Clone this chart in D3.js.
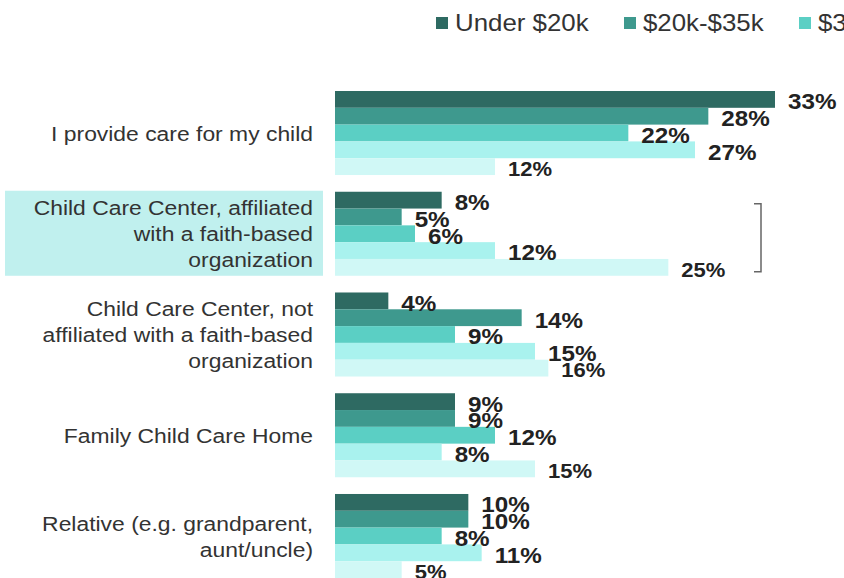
<!DOCTYPE html>
<html>
<head>
<meta charset="utf-8">
<script src="https://cdn.jsdelivr.net/npm/d3@7"></script>
<style>
  body { margin: 0; background: #fff; }
  svg { display: block; font-family: "Liberation Sans", Arial, sans-serif; }
</style>
</head>
<body>
<div id="chart"></div>
<script>
const w = 844;
const h = 578;

// data
const categories = [
  ["I provide care for my child"],
  ["Child Care Center, affiliated", "with a faith-based", "organization"],
  ["Child Care Center, not", "affiliated with a faith-based", "organization"],
  ["Family Child Care Home"],
  ["Relative (e.g. grandparent,", "aunt/uncle)"]
];
const series = ["Under $20k", "$20k-$35k", "$35k-$50k", "$50k-$75k", "$75k+"];
const colors = ["#2e6a62", "#3e998e", "#5bcfc4", "#a9f2ee", "#d0f8f6"];
const under20 = [33, 8, 4, 9, 10];
const from20to35 = [28, 5, 14, 9, 10];
const from35to50 = [22, 6, 9, 12, 8];
const from50to75 = [27, 12, 15, 8, 11];
const over75 = [12, 25, 16, 15, 5];
const values = [under20, from20to35, from35to50, from50to75, over75];

const highlighted = 1; // the faith-based row gets the box + bracket

const svg = d3.select("#chart")
  .append("svg")
  .attr("width", w)
  .attr("height", h);

const catIdx = categories.map((c, i) => i);

const x = d3.scaleLinear().domain([0, 33]).range([335, 775]);

const y0 = d3.scaleBand()
  .domain(catIdx)
  .range([91, 578])
  .paddingInner(0.166)
  .paddingOuter(0);

const y1 = d3.scaleBand()
  .domain(series)
  .range([0, y0.bandwidth()]);

// highlight box behind the second label
svg.append("rect")
  .attr("x", 5)
  .attr("y", y0(highlighted) - 1)
  .attr("width", 318)
  .attr("height", y0.bandwidth() + 1)
  .attr("fill", "#c0f0ee");

// bracket on the right
const by = y0(highlighted);
svg.append("path")
  .attr("d", "M754," + (by + 12) + " H761 V" + (by + y0.bandwidth() - 4) + " H754")
  .attr("fill", "none")
  .attr("stroke", "#666")
  .attr("stroke-width", 1.5);

// category labels
const lineH = 26;
categories.forEach(function(lines, i) {
  const cy = y0(i) + y0.bandwidth() / 2;
  const top = cy - (lines.length - 1) * lineH / 2;
  svg.append("text")
    .attr("text-anchor", "end")
    .attr("font-size", "21px")
    .attr("fill", "#333")
    .attr("transform", "translate(313," + top + ") scale(1.09,1)")
    .selectAll("tspan")
    .data(lines)
    .enter()
    .append("tspan")
    .attr("x", 0)
    .attr("y", (d, j) => j * lineH)
    .attr("dy", "0.36em")
    .text(d => d);
});

// bars
const groups = svg.selectAll("g.group")
  .data(catIdx)
  .enter()
  .append("g")
  .attr("class", "group")
  .attr("transform", d => "translate(0," + y0(d) + ")");

groups.selectAll("rect")
  .data(ci => series.map((s, si) => ({ s: s, si: si, v: values[si][ci] })))
  .enter()
  .append("rect")
  .attr("x", x(0))
  .attr("y", d => y1(d.s))
  .attr("width", d => x(d.v) - x(0))
  .attr("height", y1.bandwidth())
  .attr("fill", d => colors[d.si]);

groups.selectAll("text")
  .data(ci => series.map((s, si) => ({ s: s, si: si, v: values[si][ci] })))
  .enter()
  .append("text")
  .attr("transform", d => "translate(" + (x(d.v) + 13) + "," + (y1(d.s) + y1.bandwidth() / 2 + 2) + ") scale(1.1,1)")
  .attr("dy", "0.36em")
  .attr("font-weight", "bold")
  .attr("font-size", d => d.si == 4 ? "20px" : "22px")
  .attr("fill", "#222")
  .text(d => d.v + "%");

// legend (runs off the right edge like the original)
const legendX = [436, 624, 799];
for (let i = 0; i < 3; i++) {
  svg.append("rect")
    .attr("x", legendX[i])
    .attr("y", 17)
    .attr("width", 12)
    .attr("height", 12)
    .attr("fill", colors[i]);
  svg.append("text")
    .attr("transform", "translate(" + (legendX[i] + 19) + ",23) scale(1.1,1)")
    .attr("dy", "0.36em")
    .attr("font-size", "23.5px")
    .attr("fill", "#333")
    .text(series[i]);
}
</script>
</body>
</html>
